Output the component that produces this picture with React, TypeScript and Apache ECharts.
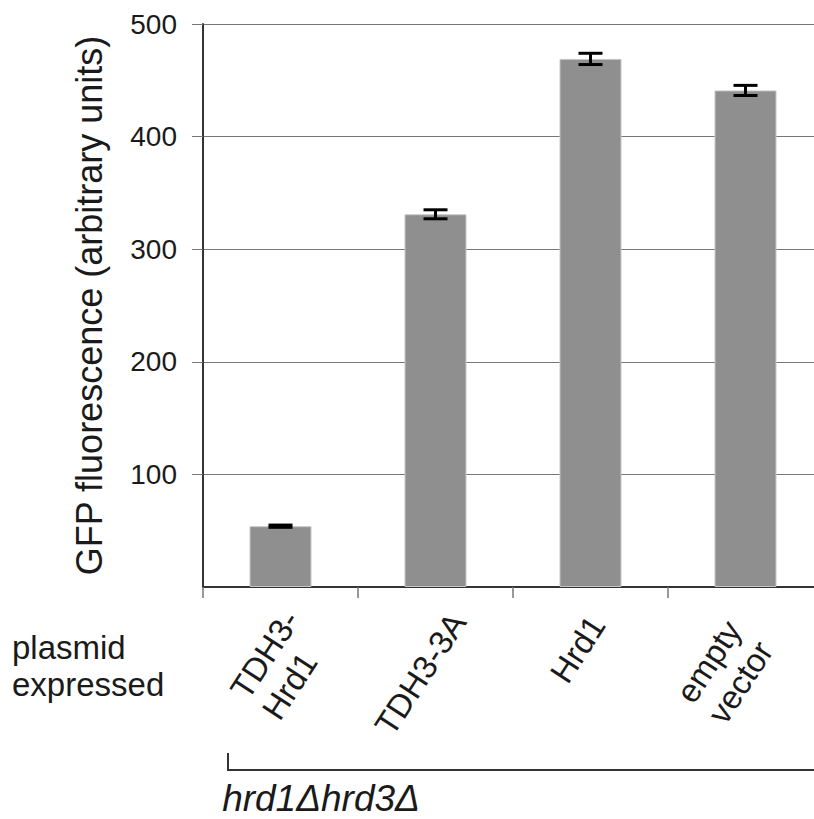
import React, { useEffect, useRef } from 'react';
import * as echarts from 'echarts';

const categories = ['TDH3-\nHrd1', 'TDH3-3A', 'Hrd1', 'empty\nvector'];
const values = [54, 331, 469, 441];
const errors = [1, 4, 5, 4.5];
const yMin = 0;
const yMax = 500;
const yInterval = 100;
const yAxisTitle = 'GFP fluorescence (arbitrary units)';
const rowLabelLines = ['plasmid', 'expressed'];
const strainLabel = 'hrd1Δhrd3Δ';
// per-label nudge (padding) to mimic the hand-placed labels of the original
const labelPadding = [
  [0, 0, 2, 4],
  [0, 28, 18, 0],
  [0, 0, 41, 16],
  [0, 31, 30, 0],
];

const FONT = "'Liberation Sans', Arial, Helvetica, sans-serif";
const TEXT = '#1a1a1a';

export default function App() {
  const ref = useRef<HTMLDivElement>(null);
  useEffect(() => {
    if (!ref.current) return;
    const chart = echarts.init(ref.current, null, { renderer: 'svg' });
    chart.setOption({
      animation: false,
      backgroundColor: '#ffffff',
      grid: { left: 203, top: 24, width: 620, height: 563, containLabel: false, outerBoundsMode: 'none' },
      xAxis: {
        type: 'category',
        data: categories.map((c, i) => ({
          value: c,
          textStyle: { padding: labelPadding[i], align: 'center', verticalAlign: 'middle' },
        })),
        axisLine: { show: true, lineStyle: { color: '#333', width: 2 } },
        axisTick: { show: true, length: 11, lineStyle: { color: '#777', width: 1.5 } },
        axisLabel: {
          interval: 0,
          rotate: 57,
          align: 'center',
          verticalAlign: 'middle',
          margin: 80,
          formatter: (v: string) => v.split('\n').map((s) => `{a|${s}}`).join('\n'),
          rich: {
            a: { align: 'left', fontSize: 33, lineHeight: 38, fontFamily: FONT, color: TEXT },
          },
        },
        splitLine: { show: false },
      },
      yAxis: {
        type: 'value',
        min: yMin,
        max: yMax,
        interval: yInterval,
        name: yAxisTitle,
        nameLocation: 'middle',
        nameGap: 96,
        nameRotate: 90,
        nameTextStyle: { fontSize: 36, fontFamily: FONT, color: TEXT },
        axisLine: { show: true, lineStyle: { color: '#333', width: 2 } },
        axisTick: { show: true, length: 11, lineStyle: { color: '#777', width: 1 } },
        axisLabel: {
          showMinLabel: false,
          formatter: (v: number) => (v === 0 ? '' : String(v)),
          fontSize: 28,
          margin: 26,
          color: TEXT,
          fontFamily: FONT,
        },
        splitLine: { show: true, lineStyle: { color: '#777', width: 1 } },
      },
      series: [
        {
          type: 'bar',
          data: values,
          barWidth: 62,
          itemStyle: { color: '#8f8f8f', borderColor: '#c6c6c6', borderWidth: 1 },
        },
        {
          type: 'custom',
          data: values.map((v, i) => [i, v, errors[i]]),
          z: 10,
          renderItem: (params: any, api: any) => {
            const i = api.value(0);
            const v = api.value(1);
            const e = api.value(2);
            const top = api.coord([i, v + e]);
            const bot = api.coord([i, v - e]);
            const hw = 12;
            const style = { stroke: '#000', lineWidth: 3 };
            return {
              type: 'group',
              children: [
                { type: 'line', shape: { x1: top[0], y1: top[1], x2: bot[0], y2: bot[1] }, style },
                { type: 'line', shape: { x1: top[0] - hw, y1: top[1], x2: top[0] + hw, y2: top[1] }, style },
                { type: 'line', shape: { x1: bot[0] - hw, y1: bot[1], x2: bot[0] + hw, y2: bot[1] }, style },
              ],
            };
          },
        },
      ],
      graphic: [
        {
          type: 'text',
          left: 12,
          top: 631,
          style: { text: rowLabelLines[0], fontSize: 33, fontFamily: FONT, fill: TEXT },
        },
        {
          type: 'text',
          left: 12,
          top: 668,
          style: { text: rowLabelLines[1], fontSize: 33, fontFamily: FONT, fill: TEXT },
        },
        {
          type: 'polyline',
          shape: { points: [[228, 753], [228, 770], [840, 770]] },
          style: { stroke: '#333', lineWidth: 2, fill: 'none' },
        },
        {
          type: 'text',
          x: 321,
          y: 798,
          style: {
            text: strainLabel,
            fontSize: 37,
            fontStyle: 'italic',
            fontFamily: FONT,
            fill: TEXT,
            align: 'center',
            verticalAlign: 'middle',
          },
        },
      ],
    });
    return () => chart.dispose();
  }, []);
  return (
    <div style={{ position: 'fixed', left: 0, top: 0, width: 814, height: 819, overflow: 'hidden', background: '#fff' }}>
      <div ref={ref} style={{ width: 840, height: 819 }} />
    </div>
  );
}
